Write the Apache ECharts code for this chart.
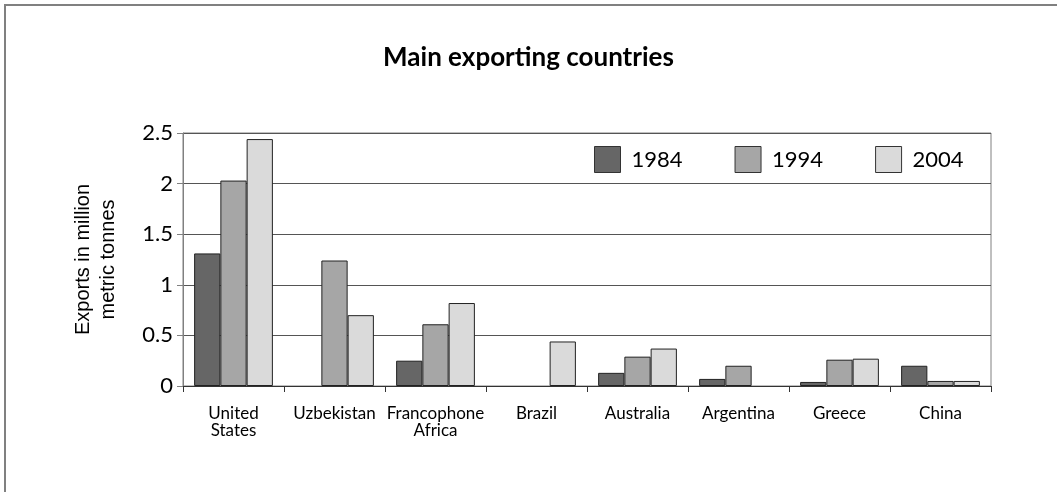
<!DOCTYPE html>
<html>
<head>
<meta charset="utf-8">
<script src="https://cdn.jsdelivr.net/npm/echarts@6/dist/echarts.min.js"></script>
<style>
html,body{margin:0;padding:0;background:#fff;}
#c{width:1057px;height:492px;}
</style>
</head>
<body>
<div id="c"></div>
<script>
const categories = ['United\nStates', 'Uzbekistan', 'Francophone\nAfrica', 'Brazil', 'Australia', 'Argentina', 'Greece', 'China'];
const years = ['1984', '1994', '2004'];
const s1984 = [1.31, null, 0.25, null, 0.13, 0.07, 0.04, 0.20];
const s1994 = [2.03, 1.24, 0.61, null, 0.29, 0.20, 0.26, 0.05];
const s2004 = [2.44, 0.70, 0.82, 0.44, 0.37, null, 0.27, 0.05];
const yTicks = [0, 0.5, 1, 1.5, 2, 2.5];
const colors = ['#666666', '#a6a6a6', '#dadada'];

const font = 'Lato, "Open Sans", sans-serif';
const chart = echarts.init(document.getElementById('c'));
const seriesData = [s1984, s1994, s2004];
chart.setOption({
  animation: false,
  backgroundColor: '#fff',
  graphic: [{
    type: 'polyline',
    shape: { points: [[5, 492], [5, 5], [1057, 5]] },
    style: { stroke: '#808080', lineWidth: 2, fill: null }
  }],
  title: {
    text: 'Main exporting countries',
    left: 'center',
    top: 40,
    textStyle: { fontFamily: font, fontWeight: 'bold', fontSize: 26, color: '#000' }
  },
  legend: {
    data: years,
    left: 589,
    top: 141,
    itemWidth: 26,
    itemHeight: 26,
    itemGap: 52,
    icon: 'rect',
    textStyle: { fontFamily: font, fontSize: 22, color: '#000', width: 60, padding: [0, 0, 0, 6] },
    itemStyle: { borderColor: '#333', borderWidth: 1 }
  },
  grid: {
    left: 183, right: 66, top: 133, bottom: 106,
    show: true, borderColor: '#808080', borderWidth: 1
  },
  xAxis: {
    type: 'category',
    data: categories,
    axisLine: { lineStyle: { color: '#333' } },
    axisTick: { show: true, length: 6, lineStyle: { color: '#333' } },
    axisLabel: { fontFamily: font, fontSize: 17, color: '#000', margin: 19, lineHeight: 17, interval: 0 }
  },
  yAxis: {
    type: 'value',
    min: yTicks[0],
    max: yTicks[yTicks.length - 1],
    interval: 0.5,
    name: 'Exports in million\nmetric tonnes',
    nameLocation: 'middle',
    nameGap: 62,
    nameTextStyle: { fontFamily: '"Liberation Sans", Arial, sans-serif', fontSize: 20, color: '#000', lineHeight: 25 },
    axisLine: { show: true, lineStyle: { color: '#808080' } },
    axisTick: { show: true, length: 6, lineStyle: { color: '#808080' } },
    axisLabel: { fontFamily: font, fontSize: 22, color: '#000', margin: 10 },
    splitLine: { lineStyle: { color: '#555' } }
  },
  series: years.map((y, i) => ({
    name: y,
    type: 'bar',
    data: seriesData[i],
    barGap: '0%',
    barCategoryGap: '22%',
    itemStyle: { color: colors[i], borderColor: '#222', borderWidth: 1 }
  }))
});
</script>
</body>
</html>
